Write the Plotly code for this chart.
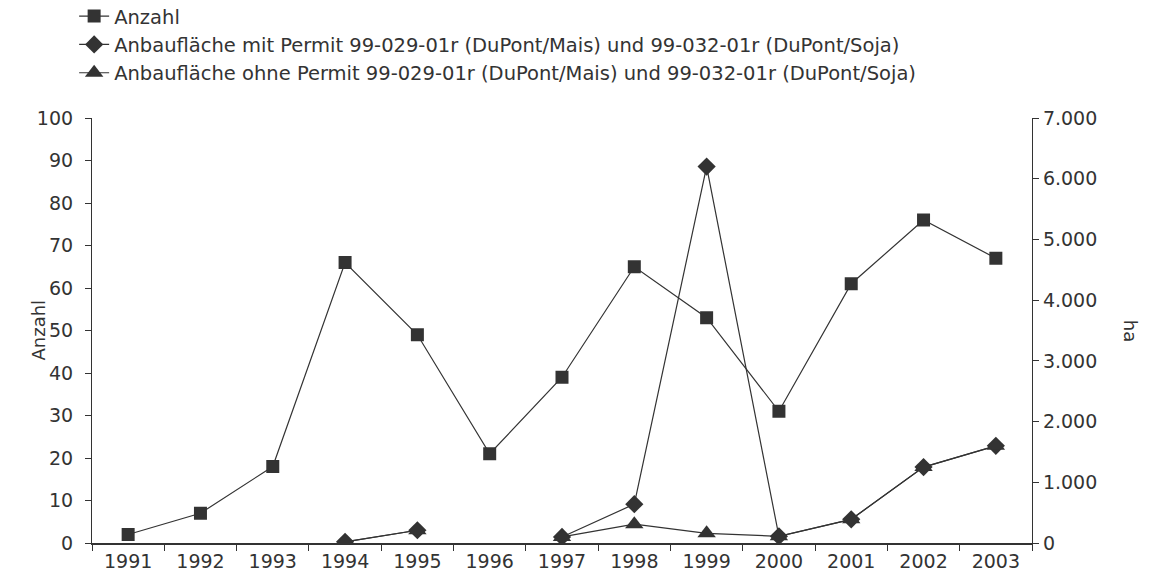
import plotly.graph_objects as go

# Jahre und Werte
jahre = ["1991", "1992", "1993", "1994", "1995", "1996", "1997",
         "1998", "1999", "2000", "2001", "2002", "2003"]
anzahl = [2, 7, 18, 66, 49, 21, 39, 65, 53, 31, 61, 76, 67]
flaeche_mit = [None, None, None, 20, 210, None, 100, 640, 6200, 110, 390, 1250, 1600]
flaeche_ohne = [None, None, None, 20, 210, None, 100, 310, 160, 110, 390, 1250, 1600]

namen = ["Anzahl",
         "Anbaufläche mit Permit 99-029-01r (DuPont/Mais) und 99-032-01r (DuPont/Soja)",
         "Anbaufläche ohne Permit 99-029-01r (DuPont/Mais) und 99-032-01r (DuPont/Soja)"]

farbe = "#333333"
schrift = "DejaVu Sans, sans-serif"

fig = go.Figure()
fig.add_trace(go.Scatter(x=jahre, y=anzahl, name=namen[0], mode="lines+markers",
                         line=dict(color=farbe, width=1.2),
                         marker=dict(symbol="square", size=13, color=farbe)))
fig.add_trace(go.Scatter(x=jahre, y=flaeche_mit, name=namen[1], mode="lines+markers",
                         yaxis="y2", connectgaps=False,
                         line=dict(color=farbe, width=1.2),
                         marker=dict(symbol="diamond", size=14, color=farbe)))
fig.add_trace(go.Scatter(x=jahre, y=flaeche_ohne, name=namen[2], mode="lines+markers",
                         yaxis="y2", connectgaps=False,
                         line=dict(color=farbe, width=1.2),
                         marker=dict(symbol="triangle-up", size=16, color=farbe)))

fig.update_layout(
    width=1149, height=575,
    margin=dict(l=92, r=117, t=118, b=32, autoexpand=False),
    paper_bgcolor="white", plot_bgcolor="white",
    font=dict(family=schrift, size=19, color=farbe),
    separators=",.",
    showlegend=True,
    legend=dict(x=-0.019, y=1.285, xanchor="left", yanchor="top",
                font=dict(size=19.5, color=farbe), tracegroupgap=0,
                itemwidth=30, bgcolor="rgba(0,0,0,0)"),
    xaxis=dict(type="category", range=[-0.5, 12.5], showgrid=False,
               showline=True, linecolor=farbe, linewidth=1.5,
               ticks="outside", tickson="boundaries", ticklen=6,
               tickcolor=farbe, tickfont=dict(size=19, color=farbe)),
    yaxis=dict(range=[0, 100], dtick=10, showgrid=False, zeroline=False,
               showline=True, linecolor=farbe, linewidth=1.2,
               ticks="outside", ticklen=6, tickcolor=farbe,
               ticklabelstandoff=8, tickfont=dict(size=19, color=farbe)),
    yaxis2=dict(range=[0, 7000], dtick=1000, overlaying="y", side="right",
                showgrid=False, zeroline=False, tickformat=",.0f",
                showline=True, linecolor=farbe, linewidth=1.2,
                ticks="outside", ticklen=6, tickcolor=farbe,
                tickfont=dict(size=19, color=farbe)),
)

# Achsentitel
fig.add_annotation(text="Anzahl", xref="paper", yref="paper", x=-0.0574, y=0.5,
                   xanchor="center", yanchor="middle", textangle=-90,
                   showarrow=False, font=dict(size=18, color=farbe))
fig.add_annotation(text="ha", xref="paper", yref="paper", x=1.105, y=0.5,
                   xanchor="center", yanchor="middle", textangle=90,
                   showarrow=False, font=dict(size=18, color=farbe))

# Seitenrand des Browsers entfernen, damit die Grafik bei (0,0) beginnt
fig.write_html("out.html", config={"displayModeBar": False},
               post_script="document.body.style.margin='0';")
